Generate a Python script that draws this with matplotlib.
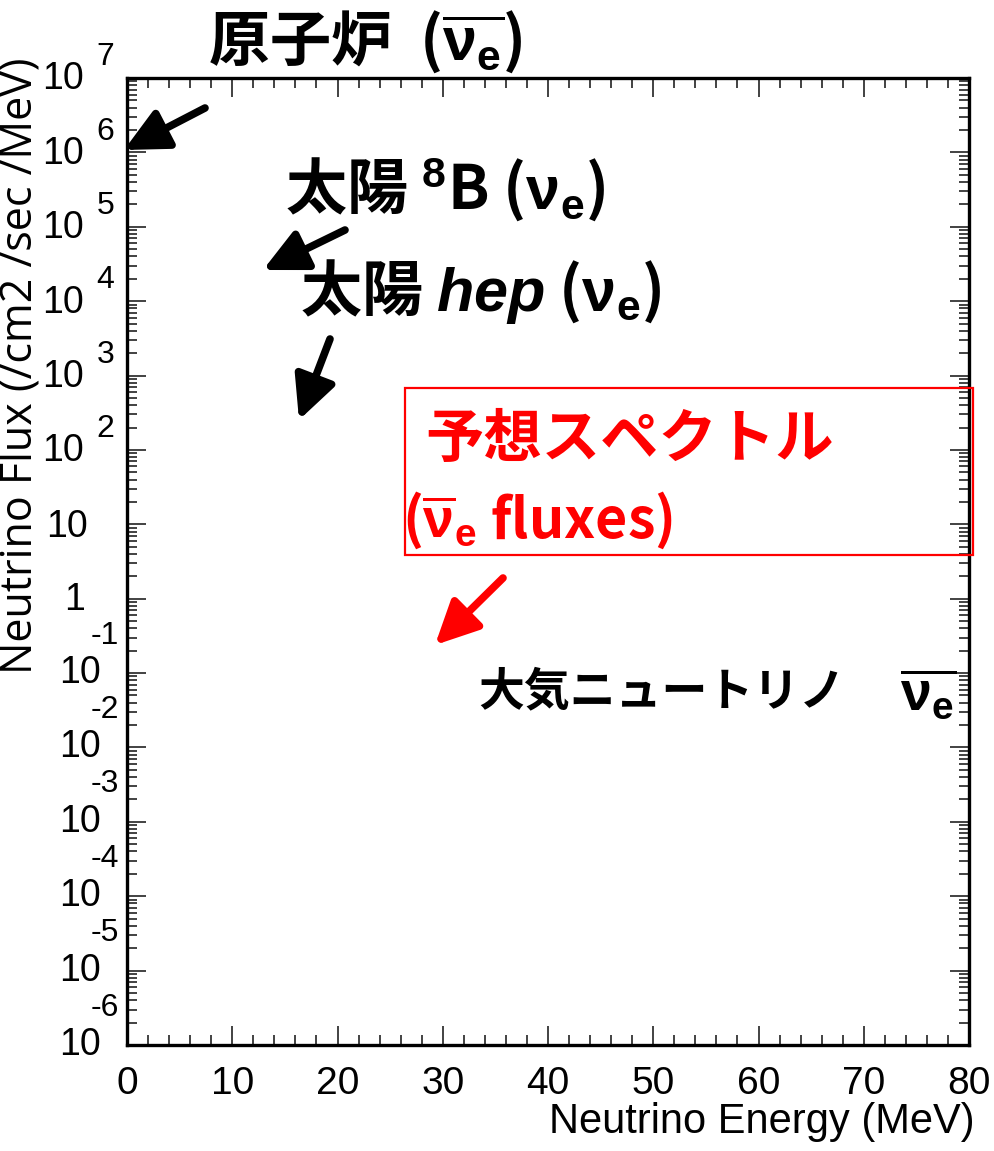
import numpy as np
import matplotlib
matplotlib.use('Agg')
import matplotlib.pyplot as plt
import matplotlib.patches as mpatches
from matplotlib.ticker import MultipleLocator, LogLocator, NullFormatter

# axis ranges (empty frame, no data drawn)
x_range = [0, 80]
y_range = [1e-6, 1e7]
x_ticks = [0, 10, 20, 30, 40, 50, 60, 70, 80]
y_exponents = [7, 6, 5, 4, 3, 2, 1, 0, -1, -2, -3, -4, -5, -6]

plt.rcParams['font.family'] = ['Noto Sans CJK JP', 'DejaVu Sans']
plt.rcParams['mathtext.fontset'] = 'custom'
plt.rcParams['mathtext.rm'] = 'Liberation Sans:bold'
plt.rcParams['mathtext.it'] = 'Liberation Sans:italic:bold'
plt.rcParams['mathtext.bf'] = 'Liberation Sans:bold'

W, H = 994, 1151
fig = plt.figure(figsize=(W / 100, H / 100), dpi=100)


def fp(x, y):
    # pixel position (from top-left) -> figure fraction
    return (x / W, 1 - y / H)


ax = fig.add_axes([127 / W, 106 / H, 842 / W, 967 / H])
ax.set_xlim(x_range)
ax.set_yscale('log')
ax.set_ylim(y_range)

for sp in ax.spines.values():
    sp.set_linewidth(2.4)

ax.xaxis.set_major_locator(MultipleLocator(10))
ax.xaxis.set_minor_locator(MultipleLocator(2))
ax.yaxis.set_major_locator(LogLocator(base=10, numticks=20))
ax.yaxis.set_minor_locator(LogLocator(base=10, subs=np.arange(2, 10), numticks=20))
ax.yaxis.set_major_formatter(NullFormatter())
ax.yaxis.set_minor_formatter(NullFormatter())
ax.tick_params(which='both', direction='in', top=True, right=True, width=1.2, color='#222222')
ax.tick_params(which='major', length=14)
ax.tick_params(which='minor', length=7)
ax.tick_params(axis='x', which='major', pad=15)
ax.set_xticks(x_ticks)
ax.set_xticklabels([str(t) for t in x_ticks], fontsize=28, family='Liberation Sans')

# ROOT-style y labels: "10" with exponent placed above it
lab_font = dict(family='Liberation Sans', fontsize=27, color='black')
exp_font = dict(family='Liberation Sans', fontsize=23, color='black')
for k in y_exponents:
    yv = 10.0 ** k
    if k >= 2:
        ax.annotate('10', xy=(0, yv), xycoords=('axes fraction', 'data'),
                    xytext=(-31, -1), textcoords='offset points', ha='right', va='center', **lab_font)
        ax.annotate(str(k), xy=(0, yv), xycoords=('axes fraction', 'data'),
                    xytext=(-22, 15), textcoords='offset points', ha='left', va='center', **exp_font)
    elif k == 1:
        ax.annotate('10', xy=(0, yv), xycoords=('axes fraction', 'data'),
                    xytext=(-28, -2), textcoords='offset points', ha='right', va='center', **lab_font)
    elif k == 0:
        ax.annotate('1', xy=(0, yv), xycoords=('axes fraction', 'data'),
                    xytext=(-30, -1), textcoords='offset points', ha='right', va='center', **lab_font)
    else:
        ax.annotate('10', xy=(0, yv), xycoords=('axes fraction', 'data'),
                    xytext=(-19, 0), textcoords='offset points', ha='right', va='center', **lab_font)
        ax.annotate(str(k), xy=(0, yv), xycoords=('axes fraction', 'data'),
                    xytext=(-26, 27), textcoords='offset points', ha='left', va='center', **exp_font)

fig.text(*fp(975, 1122), 'Neutrino Energy (MeV)', ha='right', va='center',
         fontsize=30, family='Liberation Sans')
fig.text(*fp(21, 57), 'Neutrino Flux (/cm2 /sec /MeV)', ha='center', va='top', rotation=90,
         fontsize=31, family='Open Sans')

# annotations
big = dict(fontsize=44, fontweight='bold', va='center', ha='left')
fig.text(*fp(208, 42), r'原子炉  ($\overline{\mathrm{\nu}_\mathrm{e}}$)', color='black', **big)
fig.text(*fp(285, 190), r'太陽 ${}^\mathrm{8}$B ($\mathrm{\nu}_\mathrm{e}$)', color='black', **big)
fig.text(*fp(300, 292), r'太陽 $hep$ ($\mathrm{\nu}_\mathrm{e}$)', color='black', **big)
fig.text(*fp(425, 440), '予想スペクトル', color='red', fontsize=42, fontweight='bold', va='center', ha='left')
fig.text(*fp(402, 520), r'($\overline{\mathrm{\nu}}_\mathrm{e}$ fluxes)', color='red', fontsize=40,
         fontweight='bold', va='center', ha='left')
fig.text(*fp(478, 692), '大気ニュートリノ', color='black',
         fontsize=33, fontweight='bold', va='center', ha='left')
fig.text(*fp(900, 695), r'$\overline{\mathrm{\nu}_\mathrm{e}}$', color='black',
         fontsize=40, fontweight='bold', va='center', ha='left')

box = mpatches.Rectangle(fp(405, 555), 568 / W, 167 / H, transform=fig.transFigure,
                         fill=False, edgecolor='red', linewidth=1.6)
fig.patches.append(box)

arrows = [((205, 108), (124, 150), 'black'),
          ((345, 230), (263, 270), 'black'),
          ((330, 339), (299, 420), 'black'),
          ((503, 578), (435, 645), 'red')]
for tail, tip, col in arrows:
    fig.patches.append(mpatches.FancyArrowPatch(
        fp(*tail), fp(*tip), transform=fig.transFigure,
        arrowstyle='-|>,head_length=0.45,head_width=0.22', mutation_scale=58,
        linewidth=5.5, color=col, shrinkA=0, shrinkB=0))

fig.savefig('out.png', dpi=100)
